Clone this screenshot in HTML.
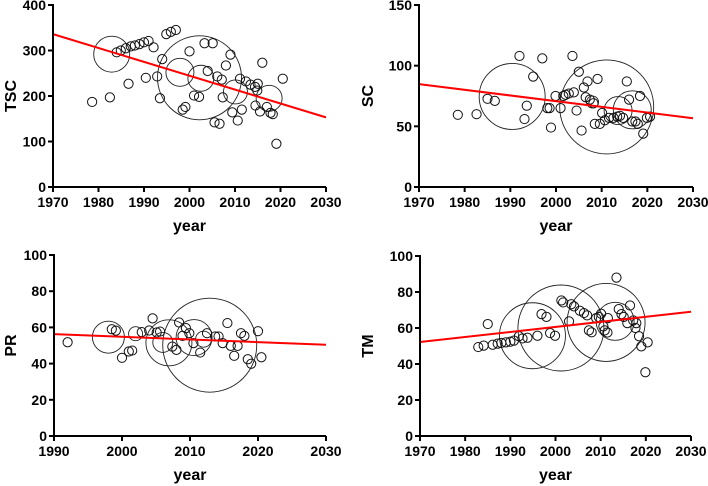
<!DOCTYPE html>
<html><head><meta charset="utf-8"><style>
html,body{margin:0;padding:0;background:#fff;}
svg{display:block;font-family:"Liberation Sans",Arial,sans-serif;}
</style></head><body>
<svg id="chart" width="708" height="486" viewBox="0 0 708 486"></svg>
<script>
// ---- Panel TSC ----
const tscYears = [1978.6,1982.5,1984.0,1984.9,1986.0,1987.1,1988.0,1989.0,1990.0,1991.0,1992.1,1986.6,1990.4,1992.9,1993.5,1994.0,1994.9,1995.9,1997.0,2000.0,2003.3,2005.1,2009.0,2008.0,2004.0,2006.1,2007.1,1998.5,1999.1,2001.0,2002.1,2005.5,2006.6,2007.3,2009.4,2010.6,2011.1,2011.5,2012.4,2013.4,2014.4,2014.9,2016.0,2015.0,2014.5,2015.5,2017.0,2017.8,2018.3,2019.1,2020.5];
const tscValues = [187,197,296,300,305,309,311,314,318,321,307,227,240,243,195,281,336,341,345,298,316,316,291,267,255,243,236,170,176,201,198,142,139,197,164,146,238,170,232,225,220,212,273,227,179,166,176,163,160,95,238];
const tscBigYears = [1982.9,1997.9,2002.5,2002.2,2010.1,2017.5];
const tscBigValues = [292,252,239,240,209,195];
const tscBigSizes = [18,14,13,42,12,13];
const tscTrend = [336,153];
const tscYTicks = [0,100,200,300,400];
// ---- Panel SC ----
const scYears = [1978.5,1982.6,1985.0,1986.6,1992.0,1993.1,1993.6,1995.0,1997.0,1998.1,1998.6,1998.9,1999.9,2001.0,2001.6,2002.1,2002.8,2003.6,2003.9,2004.5,2005.0,2005.6,2006.1,2006.9,2006.5,2007.4,2008.2,2009.1,2008.5,2009.6,2010.1,2010.7,2011.6,2012.6,2013.4,2014.0,2014.7,2015.5,2016.0,2016.7,2017.4,2017.9,2018.4,2019.1,2019.9,2020.6];
const scValues = [59.5,60,72.7,71,108,56,67,91,106,65,65,49,75,65,75,76,77,108,78,63,95,46.5,82,87,74,72,69,89,52,52,61,55,57,57,58,58.6,57,87,72,54,54,52,75,44,57,58];
const scBigYears = [1990.4,2011.1,2013.6,2016.7,2008.0];
const scBigValues = [74.6,66,63,63.6,70];
const scBigSizes = [33,47,14,19,6];
const scTrend = [84.8,56.7];
const scYTicks = [0,50,100,150];
// ---- Panel PR ----
const prYears = [1992.0,1998.5,1999.1,2000.0,2001.0,2001.5,2002.9,2004.0,2004.5,2005.1,2005.6,2007.4,2008.0,2008.4,2008.9,2009.4,2009.9,2010.5,2011.5,2012.5,2013.7,2014.2,2014.8,2015.5,2016.0,2016.5,2017.0,2017.5,2018.0,2018.5,2019.0,2020.0,2020.5];
const prValues = [51.8,59,58.2,43.2,46.7,47.2,57.4,58.3,65,57.2,57.7,49.4,47.6,62.7,55.3,59.6,56.8,51.3,46.1,56.8,55,55,51.3,62.4,49.8,44.3,49.8,56.8,55.3,42.4,39.9,57.9,43.5];
const prBigYears = [1998.0,2002.0,2006.9,2006.0,2010.6,2012.0,2012.9];
const prBigValues = [54.6,56.5,51.5,51.7,54.4,53.5,50.2];
const prBigSizes = [16,7,23,10,18,8,47];
const prTrend = [56.3,50.4];
const prYTicks = [0,20,40,60,80,100];
// ---- Panel TM ----
const tmYears = [1982.9,1984.1,1985.0,1986.1,1987.2,1988.0,1989.0,1990.0,1990.8,1991.9,1992.7,1993.8,1996.0,1996.9,1998.0,1998.8,1999.9,2001.3,2001.7,2003.0,2003.5,2004.1,2005.4,2006.3,2007.0,2007.4,2008.0,2009.0,2009.6,2010.1,2010.6,2010.9,2011.5,2011.6,2013.5,2014.0,2014.6,2015.1,2015.9,2016.5,2017.2,2017.7,2017.9,2018.5,2019.0,2019.9,2020.4];
const tmValues = [49.4,50.2,62.2,50.7,51.3,51.7,52,52.4,53,55.4,54.2,54.6,55.7,67.7,66.2,57.2,55.7,75.3,74.2,63.7,73.2,72,69.6,68.3,67,58.7,57.6,65.5,66.1,67.9,60.9,58.7,57.5,65.5,88,70.5,67.7,66.1,62.7,72.5,64.2,60,62.7,55.4,49.8,35.4,52];
const tmBigYears = [1994.9,2001.2,2011.2,2013.2];
const tmBigValues = [55.7,60,63.1,63.7];
const tmBigSizes = [33,43,39,19];
const tmTrend = [52.2,69];
const tmYTicks = [0,20,40,60,80,100];

const svg = document.getElementById('chart');
const NS = 'http://www.w3.org/2000/svg';
function mk(tag, attrs, parent){const e=document.createElementNS(NS,tag);for(const k in attrs)e.setAttribute(k,attrs[k]);(parent||svg).appendChild(e);return e;}

function panel(cfg){
  const g = mk('g',{});
  
  
  const sx = v => cfg.px0 + (v-cfg.xmin)/(cfg.xmax-cfg.xmin)*(cfg.px1-cfg.px0);
  const sy = v => cfg.py0 - (v-cfg.ymin)/(cfg.ymax-cfg.ymin)*(cfg.py0-cfg.py1);
  cfg.bx.forEach((x,i)=>{
    const c = mk('circle',{cx:sx(x),cy:sy(cfg.bv[i]),r:cfg.bs[i],fill:'none',stroke:'#222','stroke-width':0.9},g);
    
    
  });
  cfg.x.forEach((x,i)=>{
    const c = mk('circle',{cx:sx(x),cy:sy(cfg.v[i]),r:4.6,fill:'none',stroke:'#111','stroke-width':1},g);
    
    
  });
  const tl = mk('line',{x1:sx(cfg.xmin),y1:sy(cfg.trend[0]),x2:sx(cfg.xmax),y2:sy(cfg.trend[1]),stroke:'#f00','stroke-width':2},g);
  
  
  const ax = mk('path',{d:`M${cfg.px0},${cfg.py1-1}V${cfg.py0}H${cfg.px1}`,fill:'none',stroke:'#000','stroke-width':2},g);
  
  
  cfg.yticks.forEach(t=>{
    const y=sy(t);
    mk('line',{x1:cfg.px0-5,y1:y,x2:cfg.px0,y2:y,stroke:'#000','stroke-width':2},g);
    const tx = mk('text',{x:cfg.px0-7,y:y+5,'text-anchor':'end','font-size':14,'font-weight':'bold',fill:'#000'},g);
    tx.textContent=t;
    
    
  });
  for(let t=cfg.xmin;t<=cfg.xmax;t+=10){
    const x=sx(t);
    mk('line',{x1:x,y1:cfg.py0,x2:x,y2:cfg.py0+5,stroke:'#000','stroke-width':2},g);
    const tx = mk('text',{x:x,y:cfg.py0+20,'text-anchor':'middle','font-size':14,'font-weight':'bold',fill:'#000'},g);
    tx.textContent=t;
    
    
  }
  const xt = mk('text',{x:(cfg.px0+cfg.px1)/2,y:cfg.py0+44,'text-anchor':'middle','font-size':16,'font-weight':'bold',fill:'#000'},g);
  xt.textContent='year';
  
  
  const yc=(cfg.py0+cfg.py1)/2, yx=cfg.ytx;
  const yt = mk('text',{x:yx,y:yc,'text-anchor':'middle','font-size':16,'font-weight':'bold',fill:'#000',transform:`rotate(-90 ${yx} ${yc})`},g);
  yt.textContent=cfg.name.toUpperCase();
  
  
}

panel({name:'tsc',x:tscYears,v:tscValues,bx:tscBigYears,bv:tscBigValues,bs:tscBigSizes,trend:tscTrend,yticks:tscYTicks,
  xmin:1970,xmax:2030,ymin:0,ymax:400,px0:53,px1:326,py0:187,py1:5,ytx:16});
panel({name:'sc',x:scYears,v:scValues,bx:scBigYears,bv:scBigValues,bs:scBigSizes,trend:scTrend,yticks:scYTicks,
  xmin:1970,xmax:2030,ymin:0,ymax:150,px0:419,px1:693,py0:187,py1:5,ytx:373});
panel({name:'pr',x:prYears,v:prValues,bx:prBigYears,bv:prBigValues,bs:prBigSizes,trend:prTrend,yticks:prYTicks,
  xmin:1990,xmax:2030,ymin:0,ymax:100,px0:54,px1:326,py0:436,py1:255,ytx:16});
panel({name:'tm',x:tmYears,v:tmValues,bx:tmBigYears,bv:tmBigValues,bs:tmBigSizes,trend:tmTrend,yticks:tmYTicks,
  xmin:1970,xmax:2030,ymin:0,ymax:100,px0:420,px1:691,py0:436,py1:256,ytx:373});
</script>
</body></html>
